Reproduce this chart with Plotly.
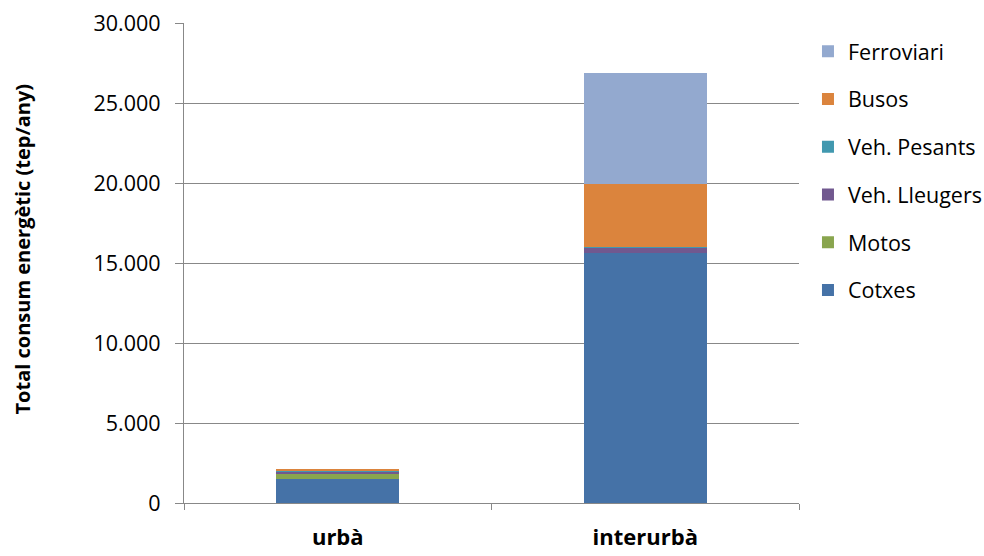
import plotly.graph_objects as go

# Energy consumption by transport mode, urban vs interurban (tep/any)
categories = ["urbà", "interurbà"]
series_names = ["Cotxes", "Motos", "Veh. Lleugers", "Veh. Pesants", "Busos", "Ferroviari"]
cotxes = [1500, 15600]
motos = [350, 0]
veh_lleugers = [100, 350]
veh_pesants = [30, 20]
busos = [150, 3950]
ferroviari = [0, 6950]
series_values = [cotxes, motos, veh_lleugers, veh_pesants, busos, ferroviari]
colors = ["#4572A7", "#89A54E", "#71588F", "#4198AF", "#DB843D", "#93A9CF"]

y_tick_vals = [0, 5000, 10000, 15000, 20000, 25000, 30000]
y_tick_text = ["0", "5.000", "10.000", "15.000", "20.000", "25.000", "30.000"]

font_family = "'Open Sans', sans-serif"

fig = go.Figure()
n = len(series_names)
for i, (name, vals, col) in enumerate(zip(series_names, series_values, colors)):
    fig.add_trace(go.Bar(
        x=categories, y=vals, name=name, legendgroup=name,
        legendrank=n - i,  # top of the stack listed first
        marker=dict(color=col, line=dict(width=0)),
    ))

fig.update_layout(
    barmode="stack",
    bargap=0.6,
    width=984, height=556,
    margin=dict(l=184, r=185, t=23, b=53, autoexpand=False),
    paper_bgcolor="white", plot_bgcolor="white",
    font=dict(family=font_family, size=20, color="#000000"),
    legend=dict(
        x=1.0146, y=0.984, xanchor="left", yanchor="top",
        traceorder="grouped", tracegroupgap=16.8,
        font=dict(size=21.5), itemwidth=30,
        bgcolor="rgba(0,0,0,0)",
    ),
    showlegend=True,
    annotations=[dict(
        text="<b>Total consum energètic (tep/any)</b>",
        xref="paper", yref="paper", x=-0.262, y=0.53,
        xanchor="center", yanchor="middle", textangle=-90,
        showarrow=False, font=dict(size=20),
    )],
)

fig.update_yaxes(
    range=[0, 30000], automargin=False,
    tickvals=y_tick_vals, ticktext=y_tick_text,
    showgrid=True, gridcolor="#888888", gridwidth=1.3,
    showline=True, linecolor="#888888", linewidth=1.3,
    ticks="outside", ticklen=8, tickcolor="#888888", tickwidth=1.3,
    tickfont=dict(size=21.5),
    ticklabelstandoff=10,
    zeroline=False,
)

fig.update_xaxes(
    automargin=False,
    showline=True, linecolor="#888888", linewidth=1.3,
    ticks="outside", ticklen=6, tickcolor="#888888", tickwidth=1.3,
    tickson="boundaries",
    tickfont=dict(size=22),
    ticktext=["<b>urbà</b>", "<b>interurbà</b>"],
    tickvals=categories,
    ticklabelstandoff=14,
)

fig.write_html("out.html")
